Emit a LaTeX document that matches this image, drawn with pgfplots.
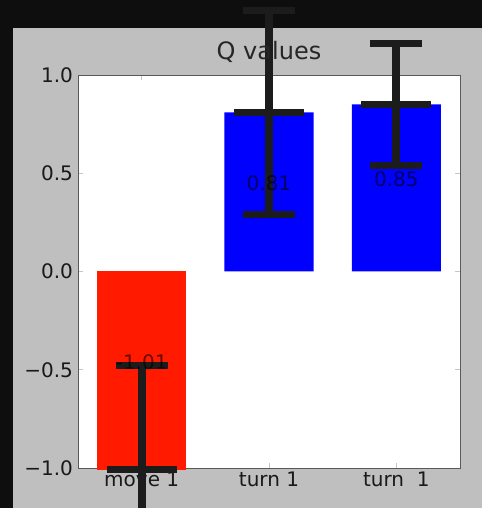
\documentclass[border=0pt]{standalone}
\usepackage{pgfplots}
\usepackage{pgfplotstable}
\pgfplotsset{compat=1.18}
\usepackage{fontspec}
\setmainfont{DejaVu Sans}
\definecolor{bgblack}{HTML}{0E0E0E}
\definecolor{figgray}{HTML}{BFBFBF}
\definecolor{barred}{HTML}{FF1A00}
\definecolor{barblue}{HTML}{0000FF}
\definecolor{errc}{HTML}{1C1C1C}
\pgfplotstableread{
x y e
0 -1.01 0.53
1 0.81 0.52
2 0.85 0.31
}\qdata
\pgfplotstableread{
x y label
0 -0.505 -1.01
1 0.405 0.81
2 0.425 0.85
}\qlabels
\begin{document}
\begin{tikzpicture}[x=1pt,y=1pt]
\fill[bgblack] (0,0) rectangle (482,508);
\fill[figgray] (13,0) rectangle (482,480);
\begin{axis}[
  at={(78pt,40pt)}, anchor=south west,
  scale only axis, width=382pt, height=393pt,
  xmin=-0.5, xmax=2.5, ymin=-1, ymax=1,
  clip=false,
  axis background/.style={fill=white},
  axis line style={draw=gray!70!black, line width=0.9pt},
  xtick={0,1,2}, xticklabels={move 1, turn 1, turn\ \ 1},
  ytick={-1,-0.5,0,0.5,1},
  yticklabels={−1.0,−0.5,0.0,0.5,1.0},
  tick align=inside,
  major tick length=5pt,
  tick style={draw=gray!45, line width=0.7pt},
  ticklabel style={font=\fontsize{20}{24}\selectfont, text=black!90},
  yticklabel style={xshift=-1.5pt},
  title={Q values},
  title style={at={(0.5,1)}, anchor=base, yshift=9pt, font=\fontsize{24}{28}\selectfont, text=black!85},
]
\addplot[ybar, bar width=0.7, bar shift=0pt, fill=barred, draw=none] coordinates {(0,-1.01)};
\addplot[ybar, bar width=0.7, bar shift=0pt, fill=barblue, draw=none] coordinates {(1,0.81) (2,0.85)};
\addplot[draw=none, mark=none, nodes near coords, point meta=explicit symbolic,
  nodes near coords style={anchor=south, font=\fontsize{20}{22}\selectfont, text=black, text opacity=0.6, inner sep=1pt}]
  table[x=x, y=y, meta=label] {\qlabels};
\addplot[errc, only marks, mark=-, mark size=35pt, mark options={line width=7pt, errc},
  error bars/.cd, y dir=both, y explicit,
  error bar style={line width=8pt, errc},
  error mark options={line width=7pt, mark size=26pt, errc, rotate=90}]
  table[x=x, y=y, y error=e] {\qdata};
\end{axis}
\pgfresetboundingbox
\useasboundingbox (0,0) rectangle (482,508);
\end{tikzpicture}
\end{document}
